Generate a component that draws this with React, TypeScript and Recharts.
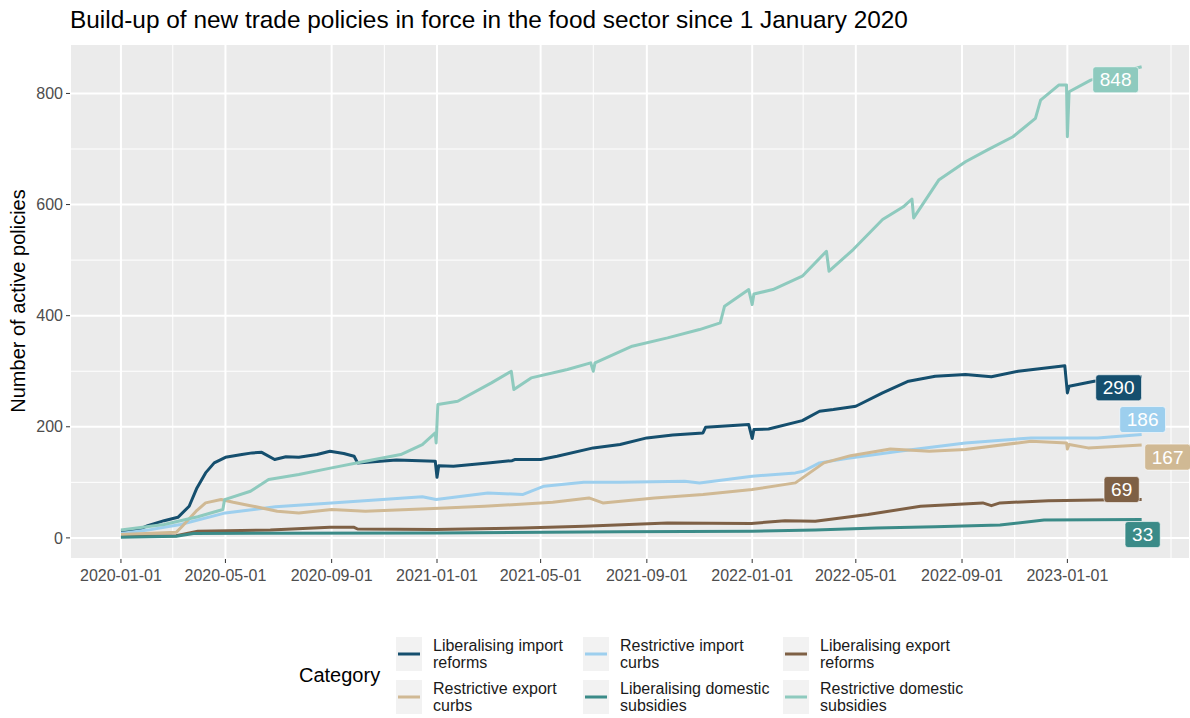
import { CartesianGrid, LabelList, Line, LineChart, XAxis, YAxis } from "recharts";

type Pt = [string, number];

// values, [date, active policies]
const liberalisingImportReforms: Pt[] = [
  ["2020-01-01", 12], ["2020-01-20", 14], ["2020-02-01", 22], ["2020-02-20", 31], ["2020-03-07", 37],
  ["2020-03-20", 57], ["2020-03-29", 90], ["2020-04-08", 117], ["2020-04-18", 135], ["2020-05-01", 145],
  ["2020-05-20", 150], ["2020-06-01", 153], ["2020-06-12", 154], ["2020-06-27", 141], ["2020-07-10", 146],
  ["2020-07-25", 145], ["2020-08-15", 150], ["2020-08-30", 156], ["2020-09-15", 152], ["2020-09-27", 147],
  ["2020-10-01", 135], ["2020-11-15", 140], ["2020-12-30", 138], ["2021-01-01", 109], ["2021-01-03", 130],
  ["2021-01-20", 129], ["2021-03-01", 135], ["2021-03-29", 139], ["2021-04-01", 141], ["2021-05-01", 141],
  ["2021-05-20", 147], ["2021-07-01", 162], ["2021-08-01", 168], ["2021-09-01", 180], ["2021-10-01", 185],
  ["2021-11-05", 189], ["2021-11-08", 199], ["2021-12-28", 204], ["2022-01-01", 179], ["2022-01-03", 195],
  ["2022-01-20", 196], ["2022-02-28", 211], ["2022-03-20", 228], ["2022-04-05", 231], ["2022-05-01", 237],
  ["2022-06-01", 261], ["2022-07-01", 282], ["2022-08-01", 291], ["2022-09-05", 294], ["2022-10-05", 290],
  ["2022-11-05", 300], ["2022-12-29", 310], ["2023-01-01", 261], ["2023-01-03", 273], ["2023-02-01", 282],
  ["2023-03-28", 290],
];

const restrictiveImportCurbs: Pt[] = [
  ["2020-01-01", 8], ["2020-02-01", 14], ["2020-03-10", 24], ["2020-05-01", 45], ["2020-06-28", 56],
  ["2020-09-01", 63], ["2020-12-15", 74], ["2020-12-31", 69], ["2021-03-01", 81], ["2021-04-10", 78],
  ["2021-05-05", 93], ["2021-06-20", 100], ["2021-08-01", 100], ["2021-10-15", 102], ["2021-11-01", 99],
  ["2022-01-01", 111], ["2022-02-20", 117], ["2022-03-01", 120], ["2022-03-20", 135], ["2022-04-20", 143],
  ["2022-06-20", 156], ["2022-09-05", 171], ["2022-11-20", 180], ["2023-02-05", 180], ["2023-03-28", 186],
];

const liberalisingExportReforms: Pt[] = [
  ["2020-01-01", 3], ["2020-03-05", 4], ["2020-03-30", 12], ["2020-06-22", 14], ["2020-08-30", 19],
  ["2020-09-27", 19], ["2020-10-01", 16], ["2020-12-30", 15], ["2021-04-10", 18], ["2021-06-20", 21],
  ["2021-09-25", 27], ["2021-12-31", 26], ["2022-02-08", 31], ["2022-03-15", 30], ["2022-05-15", 42],
  ["2022-07-15", 57], ["2022-09-25", 63], ["2022-10-05", 58], ["2022-10-15", 63], ["2022-12-10", 67],
  ["2023-02-05", 68], ["2023-03-28", 69],
];

const restrictiveExportCurbs: Pt[] = [
  ["2020-01-01", 6], ["2020-03-05", 10], ["2020-03-12", 21], ["2020-03-28", 48], ["2020-04-08", 63],
  ["2020-04-26", 69], ["2020-05-10", 64], ["2020-05-30", 58], ["2020-06-30", 48], ["2020-07-25", 45],
  ["2020-09-01", 51], ["2020-10-10", 48], ["2020-12-28", 53], ["2021-02-25", 57], ["2021-05-15", 64],
  ["2021-06-26", 72], ["2021-07-12", 63], ["2021-09-10", 72], ["2021-11-05", 78], ["2022-01-01", 87],
  ["2022-02-20", 99], ["2022-03-25", 135], ["2022-04-25", 148], ["2022-06-10", 160], ["2022-07-25", 156],
  ["2022-09-05", 159], ["2022-11-20", 174], ["2022-12-31", 171], ["2023-01-01", 160], ["2023-01-03", 168],
  ["2023-01-25", 162], ["2023-03-28", 167],
];

const liberalisingDomesticSubsidies: Pt[] = [
  ["2020-01-01", 1], ["2020-03-05", 3], ["2020-03-25", 8], ["2020-12-31", 9], ["2021-08-01", 11],
  ["2022-01-01", 12], ["2022-03-15", 14], ["2022-05-25", 18], ["2022-08-01", 20], ["2022-10-15", 23],
  ["2022-12-05", 32], ["2023-03-28", 33],
];

const restrictiveDomesticSubsidies: Pt[] = [
  ["2020-01-01", 14], ["2020-02-20", 24], ["2020-03-30", 38], ["2020-04-28", 51], ["2020-04-30", 69],
  ["2020-05-30", 84], ["2020-06-20", 105], ["2020-07-25", 114], ["2020-09-01", 126], ["2020-10-10", 138],
  ["2020-11-20", 150], ["2020-12-15", 168], ["2020-12-30", 189], ["2020-12-31", 171], ["2021-01-02", 240],
  ["2021-01-25", 246], ["2021-03-05", 279], ["2021-03-28", 300], ["2021-03-31", 267], ["2021-04-20", 288],
  ["2021-06-01", 303], ["2021-06-28", 315], ["2021-07-01", 300], ["2021-07-03", 315], ["2021-08-15", 345],
  ["2021-09-25", 360], ["2021-11-01", 375], ["2021-11-25", 387], ["2021-11-30", 417], ["2021-12-28", 447],
  ["2022-01-01", 420], ["2022-01-03", 439], ["2022-01-25", 447], ["2022-02-28", 471], ["2022-03-28", 516],
  ["2022-03-31", 480], ["2022-04-28", 519], ["2022-06-01", 573], ["2022-06-25", 596], ["2022-07-05", 610],
  ["2022-07-07", 576], ["2022-08-05", 644], ["2022-09-05", 677], ["2022-09-30", 698], ["2022-10-30", 722],
  ["2022-11-25", 755], ["2022-12-01", 788], ["2022-12-22", 815], ["2022-12-31", 815], ["2023-01-01", 722],
  ["2023-01-03", 803], ["2023-01-28", 824], ["2023-03-28", 848],
];

const majorTicks = [
  "2020-01-01", "2020-05-01", "2020-09-01", "2021-01-01", "2021-05-01",
  "2021-09-01", "2022-01-01", "2022-05-01", "2022-09-01", "2023-01-01",
];
const minorTicks = [
  "2020-03-01", "2020-07-01", "2020-11-01", "2021-03-01", "2021-07-01", "2021-11-01",
  "2022-03-01", "2022-07-01", "2022-11-01", "2023-03-01", "2023-05-01",
];
const yTicks = [0, 200, 400, 600, 800];
const yMinorTicks = [100, 300, 500, 700];

const FONT = "'Liberation Sans', Arial, sans-serif";
const DAY = 86400000;
const toTime = (d: string) => Date.parse(d + "T00:00:00Z");
const X_DOMAIN = [toTime("2020-01-01") - 59 * DAY, toTime("2020-01-01") + 1238 * DAY];
const Y_DOMAIN = [-38, 889];

const SERIES = [
  { id: "lir", name: "Liberalising import reforms", color: "#154F6E", points: liberalisingImportReforms, off: [-23, 11] },
  { id: "ric", name: "Restrictive import curbs", color: "#9DCFEE", points: restrictiveImportCurbs, off: [1, -15] },
  { id: "ler", name: "Liberalising export reforms", color: "#7E6045", points: liberalisingExportReforms, off: [-20, -10] },
  { id: "rec", name: "Restrictive export curbs", color: "#D0B994", points: restrictiveExportCurbs, off: [26, 12] },
  { id: "lds", name: "Liberalising domestic subsidies", color: "#3B8B88", points: liberalisingDomesticSubsidies, off: [1, 15] },
  { id: "rds", name: "Restrictive domestic subsidies", color: "#8ECABE", points: restrictiveDomesticSubsidies, off: [-26, 13] },
];

const fmtDate = (v: number) => new Date(v).toISOString().slice(0, 10);

function EndLabel(props: any, color: string, last: number, off: number[]) {
  const { x, y, index, value } = props;
  if (index !== last) return null;
  const text = String(value);
  const w = text.length * 10.6 + 14;
  const h = 26;
  const cx = x + off[0];
  const cy = y + off[1];
  return (
    <g>
      <rect x={cx - w / 2} y={cy - h / 2} width={w} height={h} rx={3} fill={color} stroke="#fff" strokeWidth={0.6} />
      <text x={cx} y={cy} dy="0.35em" textAnchor="middle" fill="#fff" fontSize={19} fontFamily={FONT}>
        {text}
      </text>
    </g>
  );
}

function LegendKey({ color }: { color: string }) {
  return (
    <svg width={26} height={34} style={{ display: "block", flex: "none" }}>
      <rect width={26} height={34} fill="#F2F2F2" />
      <line x1={2} x2={24} y1={17} y2={17} stroke={color} strokeWidth={3} />
    </svg>
  );
}

export default function App() {
  return (
    <div style={{ position: "absolute", left: 0, top: 0, width: 1190, height: 718, background: "#fff", fontFamily: FONT }}>
      <div style={{ position: "absolute", left: 70, top: 6, fontSize: 24.4, color: "#000", whiteSpace: "nowrap" }}>
        Build-up of new trade policies in force in the food sector since 1 January 2020
      </div>
      <div
        style={{
          position: "absolute",
          left: 18,
          top: 301,
          fontSize: 20,
          color: "#000",
          whiteSpace: "nowrap",
          transform: "translate(-50%, -50%) rotate(-90deg)",
        }}
      >
        Number of active policies
      </div>

      <LineChart width={1190} height={718} margin={{ top: 44, right: 0, bottom: 129, left: 10 }}>
        <XAxis xAxisId="minor" type="number" dataKey="t" domain={X_DOMAIN} ticks={minorTicks.map(toTime)} allowDataOverflow hide />
        <YAxis yAxisId="minor" type="number" domain={Y_DOMAIN} ticks={yMinorTicks} allowDataOverflow hide />
        <CartesianGrid xAxisId="minor" yAxisId="minor" stroke="#FFFFFF" strokeWidth={1} fill="#EBEBEB" />
        <CartesianGrid stroke="#FFFFFF" strokeWidth={2} />
        <XAxis
          type="number"
          dataKey="t"
          domain={X_DOMAIN}
          ticks={majorTicks.map(toTime)}
          tickFormatter={fmtDate}
          interval={0}
          allowDataOverflow
          axisLine={false}
          tickSize={4}
          tickMargin={7}
          height={30}
          tickLine={{ stroke: "#333333", strokeWidth: 1 }}
          tick={{ fontSize: 16, fill: "#4D4D4D", fontFamily: FONT }}
        />
        <YAxis
          type="number"
          domain={Y_DOMAIN}
          ticks={yTicks}
          interval={0}
          allowDataOverflow
          axisLine={false}
          width={60}
          tickSize={4}
          tickMargin={3}
          tickLine={{ stroke: "#333333", strokeWidth: 1 }}
          tick={{ fontSize: 16, fill: "#4D4D4D", fontFamily: FONT }}
        />
        {SERIES.map((s) => (
          <Line
            key={s.id}
            data={s.points.map(([d, v]) => ({ t: toTime(d), v }))}
            dataKey="v"
            name={s.name}
            type="linear"
            stroke={s.color}
            strokeWidth={3}
            strokeLinejoin="round"
            dot={false}
            activeDot={false}
            isAnimationActive={false}
          >
            <LabelList dataKey="v" content={(p: any) => EndLabel(p, s.color, s.points.length - 1, s.off)} />
          </Line>
        ))}
      </LineChart>

      <div style={{ position: "absolute", left: 299, top: 637, display: "flex", alignItems: "center" }}>
        <div style={{ fontSize: 20, color: "#000", width: 97 }}>Category</div>
        <div style={{ display: "grid", gridTemplateColumns: "187px 200px auto", rowGap: 9 }}>
          {SERIES.map((s) => {
            const words = s.name.split(" ");
            const second = words.pop();
            return (
              <div key={s.id} style={{ display: "flex", alignItems: "center" }}>
                <LegendKey color={s.color} />
                <div style={{ marginLeft: 11, fontSize: 16, lineHeight: "17px", color: "#1A1A1A", whiteSpace: "nowrap" }}>
                  {words.join(" ")}
                  <br />
                  {second}
                </div>
              </div>
            );
          })}
        </div>
      </div>
    </div>
  );
}
